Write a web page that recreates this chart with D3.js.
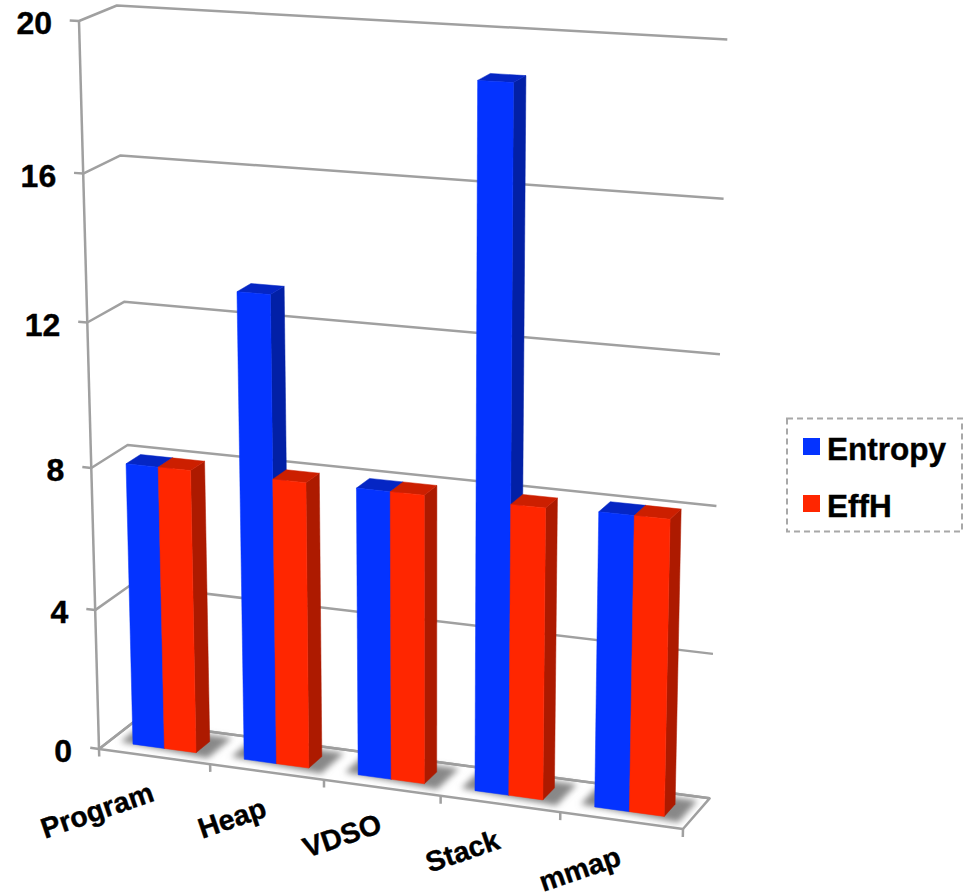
<!DOCTYPE html>
<html>
<head>
<meta charset="utf-8">
<title>Entropy and EffH by memory region</title>
<script src="https://cdnjs.cloudflare.com/ajax/libs/d3/7.8.5/d3.min.js"></script>
<style>
  html, body { margin: 0; padding: 0; background: #fff; }
  svg { display: block; }
  text { font-family: "Liberation Sans", Arial, sans-serif; font-weight: 700; fill: #000; stroke: #000; stroke-width: 0.4; }
</style>
</head>
<body>
<svg id="chart" width="963" height="896"></svg>
<script>
// Chart values
const categories = ["Program", "Heap", "VDSO", "Stack", "mmap"];
const seriesNames = ["Entropy", "EffH"];
const entropyValues = [8.0, 13.0, 8.0, 18.95, 8.05];
const effHValues = [8.0, 8.0, 8.0, 8.0, 8.05];
const valueTicks = [0, 4, 8, 12, 16, 20];

// Face shades for each series: front, top, side
const seriesColors = {
  Entropy: { front: "#0433ff", top: "#0526c4", side: "#0220a6" },
  EffH: { front: "#ff2600", top: "#cc1f00", side: "#ad1a00" }
};
const axisColor = "#a0a0a0";

const valuesBySeries = { Entropy: entropyValues, EffH: effHValues };

// Normalised box coordinates: u along the categories, v up the values, d into the depth
const uScale = d3.scaleBand().domain(categories).range([0, 1]).paddingInner(0.43).paddingOuter(0.215);
const seriesScale = d3.scaleBand().domain(seriesNames).range([0, uScale.bandwidth()]);
const categorySlot = d3.scaleBand().domain(categories).range([0, 1]);
const vScale = d3.scaleLinear().domain([0, 20]).range([0, 1]);
const barDepth = { near: 0.29, far: 0.69 };

// Perspective camera for the 3-D box, as a projective map onto the page
function project(u, v, d) {
  const w = 1 - 0.06 * u - 0.057 * v + 0.018 * d;
  const x = 99 + 543 * u - 24.5 * v + 37.8 * d;
  const y = 749 + 30.3 * u - 729.2 * v - 14.5 * d;
  return [x / w, y / w];
}

const svg = d3.select("#chart");
const defs = svg.append("defs");
defs.append("filter").attr("id", "floorShadow")
  .attr("x", "-30%").attr("y", "-60%").attr("width", "160%").attr("height", "220%")
  .append("feGaussianBlur").attr("stdDeviation", 3);

const polyline = d3.line();
const polygon = d3.line().curve(d3.curveLinearClosed);
const path3d = (pts) => polyline(pts.map(p => project(...p)));
const face3d = (pts) => polygon(pts.map(p => project(...p)));

// Walls and floor
const frame = svg.append("g").attr("fill", "none").attr("stroke", axisColor)
  .attr("stroke-width", 2.5).attr("stroke-linejoin", "round");

valueTicks.forEach(t => {
  const v = vScale(t);
  frame.append("path").attr("d", path3d([[-0.016, v, 0], [0, v, 0], [0, v, 1], [1, v, 1]]));
});
frame.append("path").attr("d", path3d([[0, 0, 0], [0, 1, 0]]));
frame.append("path").attr("d", face3d([[0, 0, 0], [1, 0, 0], [1, 0, 1], [0, 0, 1]]));

// Category ticks under the front edge of the floor
const tickPositions = categories.map(c => categorySlot(c)).concat([1]);
tickPositions.forEach(u => {
  frame.append("path").attr("d", path3d([[u, 0, 0], [u, -0.011, 0]]));
});

// Soft shadows on the floor under each pair of bars
const shadows = svg.append("g").attr("filter", "url(#floorShadow)").attr("fill", "#888888");
categories.forEach(c => {
  const u0 = uScale(c) - 0.024;
  const u1 = uScale(c) + uScale.bandwidth() + 0.028;
  shadows.append("path").attr("d", face3d([
    [u0, 0, barDepth.near + 0.02], [u1, 0, barDepth.near - 0.12],
    [u1, 0, barDepth.far + 0.2], [u0, 0, barDepth.far + 0.2]
  ]));
});

// Bars, painted left to right so nearer faces overlap correctly
const bars = svg.append("g");
categories.forEach((c, i) => {
  seriesNames.forEach(s => {
    const u0 = uScale(c) + seriesScale(s);
    const u1 = u0 + seriesScale.bandwidth();
    const v = vScale(valuesBySeries[s][i]);
    const { near, far } = barDepth;
    const col = seriesColors[s];
    const g = bars.append("g").attr("class", "bar");
    g.append("path").attr("fill", col.side).attr("stroke", col.side).attr("stroke-width", 0.5)
      .attr("d", face3d([[u1, 0, near], [u1, 0, far], [u1, v, far], [u1, v, near]]));
    g.append("path").attr("fill", col.top).attr("stroke", col.top).attr("stroke-width", 0.5)
      .attr("d", face3d([[u0, v, near], [u1, v, near], [u1, v, far], [u0, v, far]]));
    g.append("path").attr("fill", col.front).attr("stroke", col.front).attr("stroke-width", 0.5)
      .attr("d", face3d([[u0, 0, near], [u1, 0, near], [u1, v, near], [u0, v, near]]));
  });
});

// Value labels to the left of the front edge
svg.append("g").selectAll("text").data(valueTicks).join("text")
  .attr("text-anchor", "end")
  .attr("font-size", 32)
  .attr("x", t => project(0, vScale(t), 0)[0] - 27)
  .attr("y", t => project(0, vScale(t), 0)[1] + 13)
  .text(t => t);

// Slanted category labels
svg.append("g").selectAll("text").data(categories).join("text")
  .attr("text-anchor", "end")
  .attr("font-size", 28.5)
  .attr("transform", c => {
    const [x, y] = project(categorySlot(c) + categorySlot.bandwidth() / 2, 0, 0);
    return `translate(${x + 1.5},${y + 44}) rotate(-19)`;
  })
  .text(c => c);

// Legend
const legend = svg.append("g");
legend.append("rect")
  .attr("x", 787).attr("y", 418.5).attr("width", 175).attr("height", 113)
  .attr("fill", "none").attr("stroke", "#a8a8a8").attr("stroke-width", 2)
  .attr("stroke-dasharray", "6 4");
const legendY = d3.scalePoint().domain(seriesNames).range([438, 495]);
seriesNames.forEach(s => {
  legend.append("rect").attr("x", 803).attr("y", legendY(s)).attr("width", 17).attr("height", 17)
    .attr("fill", seriesColors[s].front);
  legend.append("text").attr("x", 827).attr("y", legendY(s) + 22).attr("font-size", 31.5).text(s);
});
</script>
</body>
</html>
